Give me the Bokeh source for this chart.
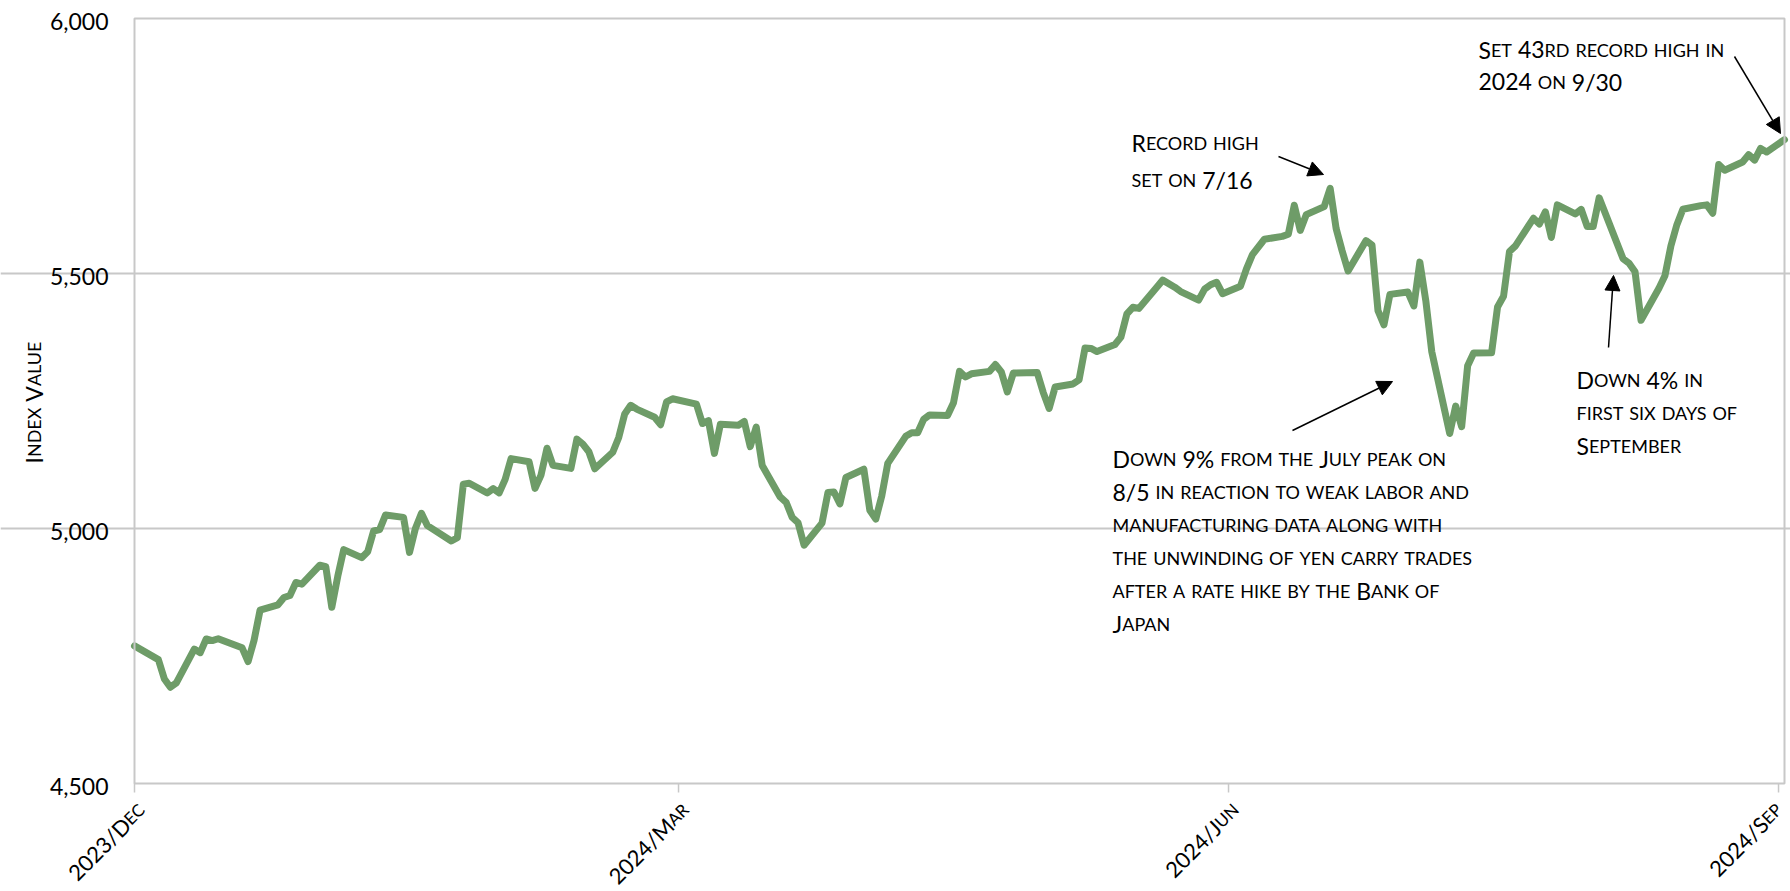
import math
import pandas as pd
from bokeh.plotting import figure
from bokeh.models import (Label, Arrow, NormalHead, Range1d, FixedTicker, CustomJS,
                          ColumnDataSource, Grid, BoxAnnotation)
from bokeh.events import DocumentReady
from bokeh.document import Document
from bokeh.embed import file_html
from bokeh.resources import INLINE

# ---------------- data (S&P 500 closes, 2023-12-29 .. 2024-09-30) ----------------
start_date = ["2023-12-29"]
start_close = [4769.83]
jan = [4742.83, 4704.81, 4688.68, 4697.24, 4763.54, 4756.50, 4783.45, 4780.24, 4783.83, 4765.98,
       4739.21, 4780.94, 4839.81, 4850.43, 4864.60, 4868.55, 4894.16, 4890.97, 4927.93, 4924.97, 4845.65]
feb = [4906.19, 4958.61, 4942.81, 4954.23, 4995.06, 4997.91, 5026.61, 5021.84, 4953.17, 5000.62,
       5029.73, 5005.57, 4975.51, 4981.80, 5087.03, 5088.80, 5069.53, 5078.18, 5069.76, 5096.27]
mar = [5137.08, 5130.95, 5078.65, 5104.76, 5157.36, 5123.69, 5117.94, 5175.27, 5165.31, 5150.48,
       5117.09, 5149.42, 5178.51, 5224.62, 5241.53, 5234.18, 5218.19, 5203.58, 5248.49, 5254.35]
apr = [5243.77, 5205.81, 5211.49, 5147.21, 5204.34, 5202.39, 5209.91, 5160.64, 5199.06, 5123.41,
       5061.82, 5051.41, 5022.21, 5011.12, 4967.23, 5010.60, 5070.55, 5071.63, 5048.42, 5099.96,
       5116.17, 5035.69]
may = [5018.39, 5064.20, 5127.79, 5180.74, 5187.70, 5187.67, 5214.08, 5222.68, 5221.42, 5246.68,
       5308.15, 5297.10, 5303.27, 5308.13, 5321.41, 5307.01, 5267.84, 5304.72, 5306.04, 5266.95,
       5235.48, 5277.51]
jun = [5283.40, 5291.34, 5354.03, 5352.96, 5346.99, 5360.79, 5375.32, 5421.03, 5433.74, 5431.60,
       5473.23, 5487.03, 5473.17, 5464.62, 5447.87, 5469.30, 5477.90, 5482.87, 5460.48]
jul = [5475.09, 5509.01, 5537.02, 5567.19, 5572.85, 5576.98, 5633.91, 5584.54, 5615.35, 5631.22,
       5667.20, 5588.27, 5544.59, 5505.00, 5564.41, 5555.74, 5427.13, 5399.22, 5459.10, 5463.54,
       5436.44, 5522.30]
aug = [5446.68, 5346.56, 5186.33, 5240.03, 5199.50, 5319.31, 5344.16, 5344.39, 5434.43, 5455.21,
       5543.22, 5554.25, 5608.25, 5597.12, 5620.85, 5570.64, 5634.61, 5616.84, 5625.80, 5592.18,
       5591.96, 5648.40]
sep = [5528.93, 5520.07, 5503.41, 5408.42, 5471.05, 5495.52, 5554.13, 5595.76, 5626.02, 5633.09,
       5634.58, 5618.26, 5713.64, 5702.55, 5718.57, 5732.93, 5722.26, 5745.37, 5738.17, 5762.48]
market_holidays = ["2024-01-15", "2024-02-19", "2024-03-29", "2024-05-27",
                   "2024-06-19", "2024-07-04", "2024-09-02"]

x_tick_dates = ["2023-12-29", "2024-03-29", "2024-06-29", "2024-09-29"]
x_tick_labels = ["2023/Dec", "2024/Mar", "2024/Jun", "2024/Sep"]
y_ticks = [4500, 5000, 5500, 6000]
y_label = "Index Value"

trading = pd.bdate_range("2024-01-02", "2024-09-30")
trading = trading[~trading.isin(pd.to_datetime(market_holidays))]
dates = pd.to_datetime(start_date).append(trading)
closes = start_close + jan + feb + mar + apr + may + jun + jul + aug + sep
assert len(dates) == len(closes)

src = ColumnDataSource(dict(date=dates, close=closes))

# ---------------- geometry: the plotting frame spans the whole canvas ----------------
W, H = 1790, 891
FL, FW, FT, FH = 134, 1650, 18, 765          # the visible chart box inside the canvas
X0 = pd.Timestamp("2023-12-29").value / 1e6
X1 = pd.Timestamp("2024-09-30").value / 1e6
Y0, Y1 = y_ticks[0], y_ticks[-1]

def dx(px):
    return X0 + (px - FL) / FW * (X1 - X0)

def vy(py):
    return Y0 + (FT + FH - py) / FH * (Y1 - Y0)

ms_per_px = (X1 - X0) / FW
val_per_px = (Y1 - Y0) / FH

GRAY = "#C8C8C8"
GREEN = "#6E9C68"
FONT = "Lato"

p = figure(width=W, height=H, title=None,
           x_range=Range1d(dx(0), dx(W)), y_range=Range1d(vy(H), vy(0)),
           x_axis_location=None, y_axis_location=None,
           output_backend="svg", toolbar_location=None, min_border=0)
p.background_fill_color = "white"
p.border_fill_color = "white"
p.outline_line_color = None
for g in list(p.xgrid) + list(p.ygrid):
    g.visible = False

# horizontal gridlines inside the chart box
p.add_layout(Grid(dimension=1, ticker=FixedTicker(ticks=y_ticks[1:-1]), bounds=(X0, X1),
                  grid_line_color=GRAY, grid_line_width=2))
# chart box border
p.add_layout(BoxAnnotation(left=X0, right=X1, bottom=Y0, top=Y1, fill_color=None,
                           line_color=GRAY, line_width=2, line_alpha=1))

# x tick marks (outside, below the box)
tick_ms = [pd.Timestamp(d).value / 1e6 for d in x_tick_dates]
p.segment(x0=tick_ms, y0=[Y0] * len(tick_ms), x1=tick_ms, y1=[Y0 - 9 * val_per_px] * len(tick_ms),
          line_color=GRAY, line_width=1.5)

# y tick labels
for v in y_ticks:
    p.add_layout(Label(x=dx(108), y=v, text=f"{v:,}", text_font=FONT, text_font_size="23px",
                       text_color="black", text_align="right", text_baseline="alphabetic",
                       y_offset=-3))

# the series
p.line(x="date", y="close", source=src, line_width=7, color=GREEN,
       line_join="round", line_cap="round")

# ---------------- small-caps text helper ----------------
groups_labels, groups_segs, groups_align, groups_angle, groups_big = [], [], [], [], []

def est_w(t, s):
    tot = 0.0
    for ch in t:
        if ch.isdigit():
            f = 0.58
        elif ch in "MW":
            f = 0.85
        elif ch.isupper():
            f = 0.64
        elif ch in ",.":
            f = 0.25
        elif ch == "/":
            f = 0.38
        elif ch == "%":
            f = 0.8
        elif ch == " ":
            f = 0.26
        else:
            f = 0.5
        tot += f * s
    return tot

def sc_text(text, x, y, big=23, small=18, align="left", angle=0.0):
    segs = []
    for wi, word in enumerate(text.split(" ")):
        runs = []
        for ch in word:
            kind = ch.islower()
            if runs and runs[-1][1] == kind:
                runs[-1][0] += ch
            else:
                runs.append([ch, kind])
        for ri, (t, low) in enumerate(runs):
            segs.append([t.upper() if low else t, small if low else big, wi > 0 and ri == 0])
    pos, xs = 0.0, []
    for t, s, gap in segs:
        if gap:
            pos += est_w(" ", big)
        xs.append(pos)
        pos += est_w(t, s)
    shift = -pos if align == "right" else (-pos / 2 if align == "center" else 0)
    labels = []
    for (t, s, gap), xo in zip(segs, xs):
        d = xo + shift
        lab = Label(x=x, y=y, text=t, text_font=FONT, text_font_size=f"{s}px",
                    text_color="black", text_align="left", text_baseline="alphabetic",
                    angle=angle, x_offset=d * math.cos(angle), y_offset=d * math.sin(angle))
        p.add_layout(lab)
        labels.append(lab)
    groups_labels.append(labels)
    groups_segs.append(segs)
    groups_align.append(align)
    groups_angle.append(angle)
    groups_big.append(big)

# annotations
note_high = ["Record high", "set on 7/16"]
note_last = ["Set 43rd record high in", "2024 on 9/30"]
note_aug = ["Down 9% from the July peak on", "8/5 in reaction to weak labor and",
            "manufacturing data along with", "the unwinding of yen carry trades",
            "after a rate hike by the Bank of", "Japan"]
note_sep = ["Down 4% in", "first six days of", "September"]

for line, py in zip(note_high, [142, 179]):
    sc_text(line, dx(1131), vy(py))
for line, py in zip(note_last, [49, 81]):
    sc_text(line, dx(1478), vy(py))
for line, py in zip(note_aug, [458, 491, 524, 557, 590, 623]):
    sc_text(line, dx(1112), vy(py))
for line, py in zip(note_sep, [379, 412, 445]):
    sc_text(line, dx(1576), vy(py))

# y axis title
sc_text(y_label, dx(33), vy(402), big=23, small=18, align="center", angle=math.pi / 2)

# x tick labels (rotated 45 degrees, ending at the tick; kept inside the canvas)
for tm, lab in zip(tick_ms, x_tick_labels):
    end_x = min(tm + 7 * ms_per_px, dx(W - 12))
    sc_text(lab, end_x, vy(806), big=22, small=17, align="right", angle=math.pi / 4)

# arrows
arrows = [((1278, 156), (1323, 174)), ((1734, 56), (1780, 133)),
          ((1292, 430), (1392, 381)), ((1608, 347), (1613, 275))]
for (xs_, ys_), (xe_, ye_) in arrows:
    p.add_layout(Arrow(end=NormalHead(size=15, fill_color="black", line_color="black", line_width=1),
                       x_start=dx(xs_), y_start=vy(ys_), x_end=dx(xe_), y_end=vy(ye_),
                       line_color="black", line_width=1.5))

cb = CustomJS(args=dict(L=groups_labels, S=groups_segs, A=groups_align, R=groups_angle,
                        B=groups_big, font=FONT), code="""
const c = document.createElement('canvas').getContext('2d');
function w(t, s) { c.font = s + 'px ' + font; return c.measureText(t).width; }
for (let g = 0; g < L.length; g++) {
  const segs = S[g], labs = L[g], a = R[g];
  let x = 0; const xs = [];
  for (let i = 0; i < segs.length; i++) {
    if (segs[i][2]) x += w(' ', B[g]);
    xs.push(x);
    x += w(segs[i][0], segs[i][1]);
  }
  const shift = A[g] == 'right' ? -x : (A[g] == 'center' ? -x / 2 : 0);
  const ca = Math.cos(a), sa = Math.sin(a);
  for (let i = 0; i < labs.length; i++) {
    const d = xs[i] + shift;
    labs[i].x_offset = d * ca;
    labs[i].y_offset = d * sa;
  }
}
""")

doc = Document()
doc.add_root(p)
doc.js_on_event(DocumentReady, cb)

open("out.html", "w").write(file_html(p, INLINE))
